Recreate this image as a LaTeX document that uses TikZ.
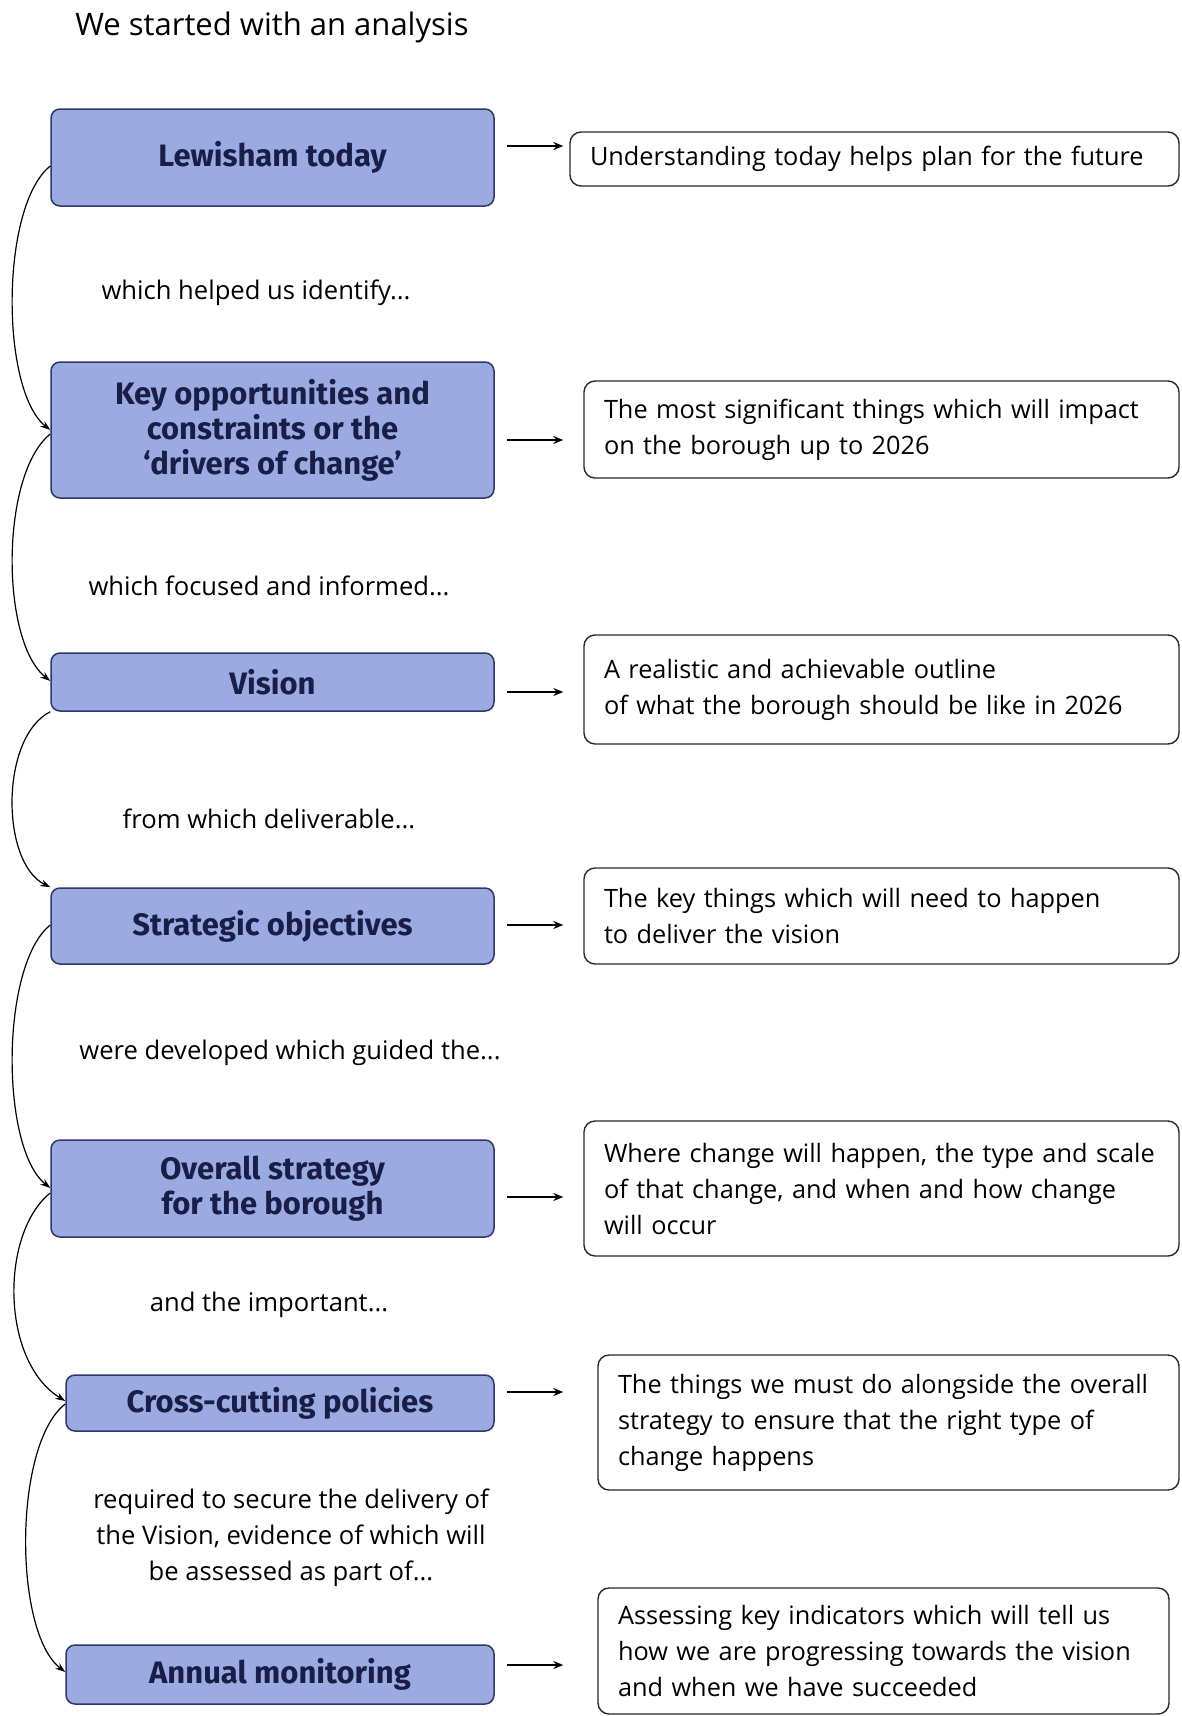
\documentclass[tikz,border=0pt]{standalone}
\usepackage{fontspec}
\setmainfont{Open Sans}
\newfontfamily\boxfont{Fira Sans}
\usetikzlibrary{arrows.meta}
\definecolor{boxblue}{RGB}{155,170,224}
\definecolor{boxborder}{RGB}{46,56,104}
\definecolor{boxtext}{RGB}{24,30,72}
\definecolor{descborder}{RGB}{40,40,40}
\begin{document}
\begin{tikzpicture}[x=1pt,y=-1pt,
  bluebox/.style={draw=boxborder, fill=boxblue, line width=1.5pt, rounded corners=9pt,
    inner sep=0pt, align=center, text=boxtext,
    font=\boxfont\bfseries\fontsize{31}{35}\selectfont},
  descbox/.style={draw=descborder, fill=white, line width=1.4pt, rounded corners=11pt,
    inner xsep=20pt, inner ysep=0pt, align=left,
    font=\fontsize{25.3}{36}\selectfont},
  lbl/.style={align=center, font=\fontsize{25.6}{36}\selectfont},
  arr/.style={line width=1.5pt, -{Stealth[length=10pt,width=8pt]}},
  bow/.style={line width=1.2pt, -{Stealth[length=10pt,width=7pt]}}
]
\useasboundingbox (0,0) rectangle (1181,1716);
\fill[white] (0,0) rectangle (1181,1716);

\node[font=\fontsize{31}{36}\selectfont] (title) at (272,27) {We started with an analysis};

% blue boxes
\node[bluebox, minimum width=443pt, minimum height=97pt] (b1) at (272.5,157.5) {Lewisham today};
\node[bluebox, minimum width=443pt, minimum height=136pt] (b2) at (272.5,430) {Key opportunities and\\constraints or the\\‘drivers of change’};
\node[bluebox, minimum width=443pt, minimum height=58pt] (b3) at (272.5,682) {Vision};
\node[bluebox, minimum width=443pt, minimum height=76pt] (b4) at (272.5,926) {Strategic objectives};
\node[bluebox, minimum width=443pt, minimum height=97pt] (b5) at (272.5,1188.5) {Overall strategy\\for the borough};
\node[bluebox, minimum width=428pt, minimum height=56pt] (b6) at (280,1403) {Cross-cutting policies};
\node[bluebox, minimum width=428pt, minimum height=59pt] (b7) at (280,1674.5) {Annual monitoring};

% description boxes
\node[descbox, text width=569pt, minimum height=54pt] (r1) at (874.5,159) {\mbox{Understanding today helps plan for the future}};
\node[descbox, text width=555pt, minimum height=97pt] (r2) at (881.5,429.5) {\mbox{The most significant things which will impact}\\on the borough up to 2026};
\node[descbox, text width=555pt, minimum height=109pt] (r3) at (881.5,689.5) {A realistic and achievable outline\\\mbox{of what the borough should be like in 2026}};
\node[descbox, text width=555pt, minimum height=96pt] (r4) at (881.5,916) {The key things which will need to happen\\to deliver the vision};
\node[descbox, text width=555pt, minimum height=135pt] (r5) at (881.5,1188.5) {\mbox{Where change will happen, the type and scale}\\\mbox{of that change, and when and how change}\\will occur};
\node[descbox, text width=541pt, minimum height=135pt] (r6) at (888.5,1422.5) {\mbox{The things we must do alongside the overall}\\\mbox{strategy to ensure that the right type of}\\change happens};
\node[descbox, text width=531pt, minimum height=126pt] (r7) at (883.5,1651) {\mbox{Assessing key indicators which will tell us}\\\mbox{how we are progressing towards the vision}\\and when we have succeeded};

% labels
\node[lbl] (l1) at (256,293) {which helped us identify...};
\node[lbl] (l2) at (269,586) {which focused and informed...};
\node[lbl] (l3) at (269,819) {from which deliverable...};
\node[lbl] (l4) at (290,1053) {were developed which guided the...};
\node[lbl] (l5) at (269,1305) {and the important...};
\node[lbl] (l6) at (291,1538) {required to secure the delivery of\\the Vision, evidence of which will\\be assessed as part of...};

% horizontal arrows
\draw[arr, shorten <=12pt, shorten >=6pt] (b1.east |- 0,146) -- (r1.west |- 0,146);
\draw[arr, shorten <=12pt, shorten >=20pt] (b2.east |- 0,440) -- (r2.west |- 0,440);
\draw[arr, shorten <=12pt, shorten >=20pt] (b3.east |- 0,692) -- (r3.west |- 0,692);
\draw[arr, shorten <=12pt, shorten >=20pt] (b4.east |- 0,925) -- (r4.west |- 0,925);
\draw[arr, shorten <=12pt, shorten >=20pt] (b5.east |- 0,1197) -- (r5.west |- 0,1197);
\draw[arr, shorten <=12pt, shorten >=34pt] (b6.east |- 0,1392) -- (r6.west |- 0,1392);
\draw[arr, shorten <=12pt, shorten >=34pt] (b7.east |- 0,1665) -- (r7.west |- 0,1665);

% bowed arrows on the left
\draw[bow] (b1.west |- 0,166) .. controls +(-50,40) and +(-50,-40) .. (b2.west |- 0,430);
\draw[bow] (b2.west |- 0,434) .. controls +(-50,40) and +(-50,-40) .. (b3.west |- 0,681);
\draw[bow] (b3.south west) .. controls +(-50,25) and +(-50,-25) .. (b4.north west);
\draw[bow] (b4.west |- 0,925) .. controls +(-50,40) and +(-50,-40) .. (b5.west |- 0,1188);
\draw[bow] (b5.west |- 0,1193) .. controls +(-50,40) and +(-65,-40) .. (b6.west |- 0,1401);
\draw[bow] (b6.west |- 0,1404) .. controls +(-52,40) and +(-52,-40) .. (b7.west |- 0,1672);
\end{tikzpicture}
\end{document}
